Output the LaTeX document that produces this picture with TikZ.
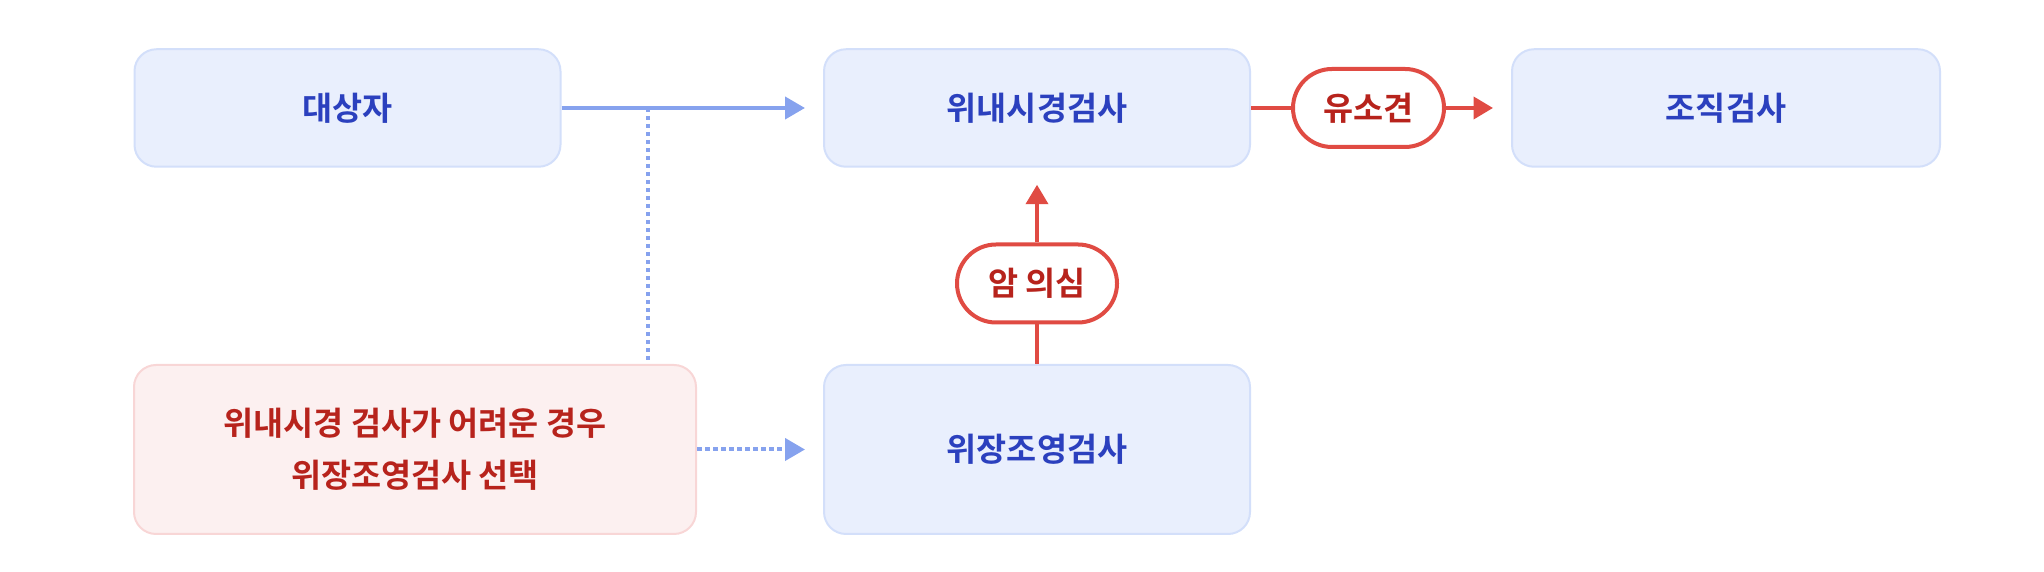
\documentclass[tikz,border=0pt]{standalone}
\usepackage{fontspec}
\setmainfont{Noto Sans CJK KR}[BoldFont={Noto Sans CJK KR Bold}]
\usepackage{xcolor}
\usetikzlibrary{shapes, arrows.meta, positioning}

\definecolor{boxfill}{HTML}{E9EFFD}
\definecolor{boxline}{HTML}{D3DFFA}
\definecolor{boxtext}{HTML}{2B40BE}
\definecolor{warnfill}{HTML}{FCF0F0}
\definecolor{warnline}{HTML}{F8D6D6}
\definecolor{warntext}{HTML}{B7231C}
\definecolor{redline}{HTML}{E04B43}
\definecolor{blueline}{HTML}{86A2EE}

\begin{document}
\begin{tikzpicture}[
    stepbox/.style={draw=boxline, line width=0.04cm, fill=boxfill, rounded corners=0.44cm,
        minimum width=8.52cm, minimum height=2.35cm, text=boxtext,
        font=\fontsize{18.6}{29.6}\selectfont\bfseries, align=center},
    warnbox/.style={stepbox, draw=warnline, fill=warnfill, text=warntext},
    tagbox/.style={draw=redline, line width=0.08cm, fill=white, rounded corners=0.78cm,
        minimum height=1.56cm, inner sep=0pt, text=warntext,
        font=\fontsize{18.6}{20}\selectfont\bfseries},
    mainarrow/.style={draw=blueline, line width=0.08cm, -{Triangle[length=0.4cm, width=0.44cm]}},
    altline/.style={draw=blueline, line width=0.08cm, dash pattern=on 0.09cm off 0.07cm},
    redarrow/.style={draw=redline, line width=0.08cm, -{Triangle[length=0.39cm, width=0.44cm]}},
    redline/.style={draw=redline, line width=0.08cm}
]
    \useasboundingbox (0,0) rectangle (40.88,11.44);

    % upper row
    \node[stepbox] (subject) at (6.95,9.28) {대상자};
    \node[stepbox] (egd) at (20.74,9.28) {위내시경검사};
    \node[stepbox, minimum width=8.56cm] (biopsy) at (34.52,9.28) {조직검사};

    % lower row
    \node[warnbox, minimum width=11.24cm, minimum height=3.38cm] (hard) at (8.30,2.45)
        {위내시경 검사가 어려운 경우\\위장조영검사 선택};
    \node[stepbox, minimum height=3.38cm] (ugi) at (20.74,2.45) {위장조영검사};

    % labels on the red path
    \node[tagbox, minimum width=3.02cm] (finding) at (27.37,9.28) {유소견};
    \node[tagbox, minimum width=3.2cm] (suspect) at (20.74,5.77) {암 의심};

    \coordinate (split) at (12.96,9.28);

    % connectors
    \draw[mainarrow, shorten >=0.36cm] (subject.east) -- (egd.west);
    \draw[altline] (split) -- (split |- hard.north);
    \draw[altline, -{Triangle[length=0.4cm, width=0.44cm]}, shorten >=0.36cm] (hard.east) -- (ugi.west);
    \draw[redline] (egd.east) -- (finding.west);
    \draw[redarrow, shorten >=0.36cm] (finding.east) -- (biopsy.west);
    \draw[redline] (ugi.north) -- (suspect.south);
    \draw[redarrow, shorten >=0.34cm] (suspect.north) -- (egd.south);
\end{tikzpicture}
\end{document}
